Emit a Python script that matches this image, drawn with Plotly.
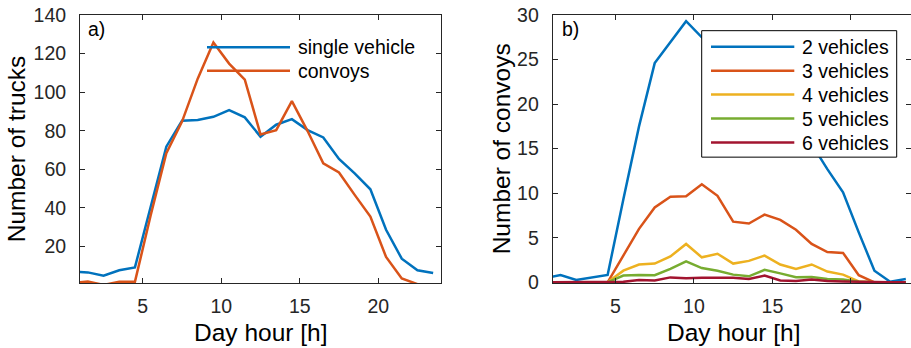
import plotly.graph_objects as go

# ---------------- data ----------------
hours = [0.5, 1.5, 2.5, 3.5, 4.5, 5.5, 6.5, 7.5, 8.5, 9.5, 10.5, 11.5,
         12.5, 13.5, 14.5, 15.5, 16.5, 17.5, 18.5, 19.5, 20.5, 21.5, 22.5, 23.5]

single_vehicle = [6.9, 6.5, 4.8, 7.6, 9.1, 40, 71.7, 85.2, 85.5, 87.2, 90.7, 86.9,
                  76.9, 83.1, 86.0, 80.3, 76.5, 65.3, 57.9, 49.6, 28.6, 13.6, 7.6, 6.2]
convoys = [1.0, 1.8, 0, 1.6, 1.6, 36, 68.3, 84.7, 107, 125.7, 114.8, 106.5,
           78.1, 80.3, 95.3, 79.8, 63.1, 58.3, 46.7, 35.5, 14.5, 3.4, 0.4, 0]

veh2 = [0.45, 0.82, 0.26, 0.56, 0.82, 9.3, 17.5, 24.6, 27.0, 29.3, 27.5, 26.5,
        24.0, 23.0, 24.0, 22.0, 19.0, 15.5, 12.7, 10.1, 5.6, 1.3, 0.07, 0.37]
veh3 = [0, 0, 0, 0, 0, 3.0, 6.0, 8.4, 9.6, 9.65, 11.0, 9.7,
        6.8, 6.6, 7.6, 7.0, 5.9, 4.3, 3.4, 3.3, 0.8, 0, 0, 0]
veh4 = [0, 0, 0, 0, 0, 1.3, 2.0, 2.1, 2.9, 4.3, 2.8, 3.2,
        2.1, 2.4, 3.0, 2.0, 1.5, 2.0, 1.2, 0.86, 0.1, 0, 0, 0]
veh5 = [0, 0, 0, 0, 0, 0.75, 0.82, 0.8, 1.5, 2.35, 1.6, 1.3,
        0.86, 0.67, 1.4, 1.0, 0.56, 0.6, 0.37, 0.3, 0.07, 0, 0, 0]
veh6 = [0, 0, 0, 0, 0, 0.05, 0.26, 0.2, 0.55, 0.45, 0.5, 0.5,
        0.5, 0.37, 0.75, 0.2, 0.15, 0.3, 0.15, 0.1, 0.05, 0, 0, 0]

left_names = ["single vehicle", "convoys"]
right_names = ["2 vehicles", "3 vehicles", "4 vehicles", "5 vehicles", "6 vehicles"]
colors = ["#0072BD", "#D95319", "#EDB120", "#77AC30", "#A2142F"]
x_ticks = [5, 10, 15, 20]
left_y_ticks = [20, 40, 60, 80, 100, 120, 140]
right_y_ticks = [0, 5, 10, 15, 20, 25, 30]
x_title = "Day hour [h]"
left_y_title = "Number of trucks"
right_y_title = "Number of convoys"

# ---------------- layout helpers (page pixels -> paper) ----------------
W, H = 911, 348
ML, MR, MT, MB = 0, 0, 15, 64.7
PW = W - ML - MR
PH = H - MT - MB


def px(x):
    return (x - ML) / PW


def py(y):
    return (H - MB - y) / PH


FONT = "Arial, 'Liberation Sans', sans-serif"
AX = "#262626"
LW = 2.5

fig = go.Figure()
for name, vals, col in zip(left_names, [single_vehicle, convoys], colors):
    fig.add_trace(go.Scatter(x=hours, y=vals, mode="lines", name=name,
                             line=dict(color=col, width=LW), showlegend=False,
                             xaxis="x", yaxis="y"))
for name, vals, col in zip(right_names, [veh2, veh3, veh4, veh5, veh6], colors):
    fig.add_trace(go.Scatter(x=hours, y=vals, mode="lines", name=name,
                             line=dict(color=col, width=LW), showlegend=False,
                             xaxis="x2", yaxis="y2"))

axis_common = dict(showgrid=False, zeroline=False, showline=True, linecolor=AX,
                   linewidth=1, mirror="ticks", ticks="inside", ticklen=5,
                   tickcolor=AX, tickwidth=1, ticklabeloverflow="allow",
                   automargin=False,
                   tickfont=dict(family=FONT, size=19.5, color=AX))

fig.update_layout(
    width=W, height=H, margin=dict(l=ML, r=MR, t=MT, b=MB),
    paper_bgcolor="white", plot_bgcolor="white", showlegend=False,
    xaxis=dict(domain=[px(80), px(441)], range=[1, 24], tickvals=x_ticks,
               ticklabelstandoff=6, **axis_common),
    yaxis=dict(domain=[0, 1], range=[1, 140], tickvals=left_y_ticks,
               ticklabelstandoff=9, **axis_common),
    xaxis2=dict(domain=[px(552.7), 1.0], range=[1, 23.83], tickvals=x_ticks, anchor="y2",
                ticklabelstandoff=6, **axis_common),
    yaxis2=dict(domain=[0, 1], range=[-0.08, 30], tickvals=right_y_ticks, anchor="x2",
                ticklabelstandoff=9, **axis_common),
)

shapes = []
annotations = []
title_font = dict(family=FONT, size=24.5, color="black")


def text(t, x, y, size=19.5, xanchor="left", angle=0, font=None):
    annotations.append(dict(text=t, x=px(x), y=py(y), xref="paper", yref="paper",
                            xanchor=xanchor, yanchor="middle", showarrow=False,
                            textangle=angle,
                            font=font or dict(family=FONT, size=size, color="black")))


# axis titles
text(x_title, 260.5, 333, xanchor="center", font=title_font)
text(x_title, 733.2, 333, xanchor="center", font=title_font)
text(left_y_title, 16.4, 149, xanchor="center", angle=-90, font=title_font)
text(right_y_title, 501.5, 149, xanchor="center", angle=-90, font=title_font)

# panel labels
text("a)", 86, 29)
text("b)", 560, 29)

# left legend (no box)
for i, (name, col) in enumerate(zip(left_names, colors)):
    yy = 47.3 + i * 23.4
    shapes.append(dict(type="line", xref="paper", yref="paper", layer="above",
                       x0=px(207), x1=px(290), y0=py(yy), y1=py(yy),
                       line=dict(color=col, width=LW)))
    text(name, 296, yy)

# right legend (white box, black border)
shapes.append(dict(type="rect", xref="paper", yref="paper", layer="above",
                   x0=px(701.7), x1=px(896.7), y0=py(157.3), y1=py(30.7),
                   fillcolor="white", line=dict(color="black", width=1)))
for i, (name, col) in enumerate(zip(right_names, colors)):
    yy = 46.7 + i * 24.0
    shapes.append(dict(type="line", xref="paper", yref="paper", layer="above",
                       x0=px(711), x1=px(794.3), y0=py(yy), y1=py(yy),
                       line=dict(color=col, width=LW)))
    text(name, 800, yy)

fig.update_layout(shapes=shapes, annotations=annotations)
# remove the default 8px page margin so the 911x348 figure fills the window
fig.write_html("out.html", config={"displayModeBar": False},
               post_script="document.body.style.margin='0px';")
